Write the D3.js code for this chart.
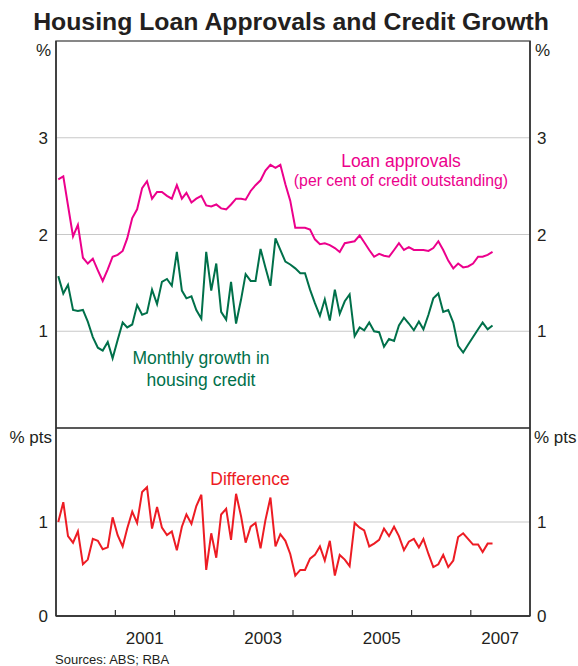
<!DOCTYPE html>
<html>
<head>
<meta charset="utf-8">
<script src="https://cdn.jsdelivr.net/npm/d3@7"></script>
<style>
  body { margin: 0; background: #fff; }
  svg { font-family: "Liberation Sans", Arial, sans-serif; }
</style>
</head>
<body>
<div class="figure"></div>
<script>
// monthly series, Jan 2000 - May 2007
let loanApprovals = [2.57, 2.60, 2.30, 1.98, 2.10, 1.76, 1.70, 1.75, 1.63, 1.52,
  1.64, 1.77, 1.79, 1.83, 1.96, 2.17, 2.26, 2.48, 2.55, 2.37,
  2.44, 2.44, 2.40, 2.37, 2.51, 2.37, 2.43, 2.33, 2.37, 2.40,
  2.30, 2.29, 2.31, 2.27, 2.26, 2.31, 2.37, 2.37, 2.36, 2.45,
  2.51, 2.56, 2.66, 2.72, 2.69, 2.72, 2.52, 2.35, 2.07, 2.07,
  2.07, 2.05, 1.95, 1.90, 1.91, 1.89, 1.86, 1.82, 1.91, 1.92,
  1.93, 1.99, 1.92, 1.84, 1.77, 1.80, 1.78, 1.77, 1.84, 1.91,
  1.84, 1.87, 1.84, 1.84, 1.84, 1.83, 1.86, 1.93, 1.84, 1.73,
  1.65, 1.70, 1.66, 1.67, 1.70, 1.77, 1.77, 1.79, 1.82]

let creditGrowth = [1.57, 1.39, 1.48, 1.22, 1.21, 1.22, 1.10, 0.94, 0.83, 0.80,
  0.89, 0.72, 0.91, 1.09, 1.04, 1.07, 1.27, 1.17, 1.19, 1.43,
  1.28, 1.51, 1.54, 1.47, 1.82, 1.42, 1.34, 1.36, 1.22, 1.13,
  1.82, 1.42, 1.70, 1.20, 1.12, 1.51, 1.08, 1.33, 1.59, 1.52,
  1.52, 1.85, 1.66, 1.47, 1.96, 1.84, 1.72, 1.69, 1.65, 1.60,
  1.60, 1.43, 1.29, 1.16, 1.33, 1.11, 1.43, 1.18, 1.31, 1.38,
  0.95, 1.04, 1.01, 1.09, 1.00, 0.99, 0.84, 0.92, 0.90, 1.06,
  1.14, 1.08, 1.01, 1.10, 1.02, 1.17, 1.34, 1.39, 1.20, 1.22,
  1.09, 0.85, 0.78, 0.86, 0.94, 1.02, 1.09, 1.02, 1.06]

let difference = [1.00, 1.21, 0.85, 0.78, 0.90, 0.55, 0.60, 0.82, 0.80, 0.71,
  0.73, 1.05, 0.86, 0.74, 0.93, 1.11, 0.99, 1.32, 1.37, 0.93,
  1.16, 0.94, 0.86, 0.90, 0.70, 0.95, 1.08, 0.98, 1.17, 1.29,
  0.49, 0.88, 0.62, 1.08, 1.14, 0.81, 1.30, 1.06, 0.78, 0.95,
  0.99, 0.72, 1.02, 1.26, 0.74, 0.87, 0.80, 0.66, 0.43, 0.49,
  0.49, 0.61, 0.65, 0.74, 0.59, 0.80, 0.43, 0.65, 0.60, 0.53,
  0.99, 0.94, 0.91, 0.74, 0.77, 0.81, 0.93, 0.85, 0.95, 0.85,
  0.70, 0.79, 0.82, 0.73, 0.82, 0.66, 0.52, 0.55, 0.65, 0.52,
  0.59, 0.84, 0.88, 0.82, 0.76, 0.76, 0.68, 0.77, 0.77]

let topTicks = [0, 1, 2, 3]
let bottomTicks = [0, 1]
let yearLabels = [2001, 2003, 2005, 2007]

const width = 578, height = 666
const plotLeft = 56, plotRight = 530, plotTop = 41, plotMid = 428, plotBottom = 616

const months = loanApprovals.map((v, i) => new Date(2000, i, 15))

const x = d3.scaleTime()
    .domain([new Date(2000, 0, 1), new Date(2008, 0, 1)])
    .range([plotLeft, plotRight])
const yTop = d3.scaleLinear().domain([0, 4]).range([plotMid, plotTop])
const yBot = d3.scaleLinear().domain([0, 2]).range([plotBottom, plotMid])

const svg = d3.select(".figure").append("svg")
    .attr("width", width)
    .attr("height", height)

svg.append("text")
    .attr("x", 291).attr("y", 30)
    .attr("text-anchor", "middle")
    .attr("font-size", 24.8).attr("font-weight", "bold")
    .attr("fill", "#231f20")
    .text("Housing Loan Approvals and Credit Growth")

// gridlines
svg.append("g").selectAll("line")
    .data(topTicks.filter(d => d > 0))
    .join("line")
    .attr("x1", plotLeft).attr("x2", plotRight)
    .attr("y1", d => yTop(d)).attr("y2", d => yTop(d))
    .attr("stroke", "#c8c8c8").attr("stroke-width", 1.2)

svg.append("g").selectAll("line")
    .data(bottomTicks.filter(d => d > 0))
    .join("line")
    .attr("x1", plotLeft).attr("x2", plotRight)
    .attr("y1", d => yBot(d)).attr("y2", d => yBot(d))
    .attr("stroke", "#c8c8c8").attr("stroke-width", 1.2)

// y tick labels, both sides
const tickFont = 17
function sideLabels(ticks, scale) {
    svg.append("g").selectAll("text")
        .data(ticks).join("text")
        .attr("x", plotLeft - 8).attr("y", d => scale(d) + 6)
        .attr("text-anchor", "end").attr("font-size", tickFont).attr("fill", "#231f20")
        .text(d => d)
    svg.append("g").selectAll("text")
        .data(ticks).join("text")
        .attr("x", plotRight + 7).attr("y", d => scale(d) + 6)
        .attr("text-anchor", "start").attr("font-size", tickFont).attr("fill", "#231f20")
        .text(d => d)
}
sideLabels(topTicks.filter(d => d > 0), yTop)
sideLabels(bottomTicks, yBot)

// units
svg.append("text").attr("x", plotLeft - 5).attr("y", 56).attr("text-anchor", "end")
    .attr("font-size", tickFont).attr("fill", "#231f20").text("%")
svg.append("text").attr("x", plotRight + 5).attr("y", 56).attr("text-anchor", "start")
    .attr("font-size", tickFont).attr("fill", "#231f20").text("%")
svg.append("text").attr("x", plotLeft - 4).attr("y", 443).attr("text-anchor", "end")
    .attr("font-size", tickFont).attr("fill", "#231f20").text("% pts")
svg.append("text").attr("x", plotRight + 4).attr("y", 443).attr("text-anchor", "start")
    .attr("font-size", tickFont).attr("fill", "#231f20").text("% pts")

// lines
const lineTop = d3.line().x((d, i) => x(months[i])).y(d => yTop(d))
const lineBot = d3.line().x((d, i) => x(months[i])).y(d => yBot(d))

svg.append("path").datum(loanApprovals)
    .attr("d", lineTop).attr("fill", "none")
    .attr("stroke", "#ec008c").attr("stroke-width", 2)
svg.append("path").datum(creditGrowth)
    .attr("d", lineTop).attr("fill", "none")
    .attr("stroke", "#00704a").attr("stroke-width", 2)
svg.append("path").datum(difference)
    .attr("d", lineBot).attr("fill", "none")
    .attr("stroke", "#ed1c24").attr("stroke-width", 2)

// frame
const frame = svg.append("g").attr("stroke", "#333").attr("stroke-width", 1.6).attr("fill", "none")
frame.append("rect").attr("x", plotLeft).attr("y", plotTop)
    .attr("width", plotRight - plotLeft).attr("height", plotBottom - plotTop)
    .attr("stroke", "#555").attr("stroke-width", 1.4)
frame.append("line").attr("x1", plotLeft).attr("x2", plotRight).attr("y1", plotMid).attr("y2", plotMid)
    .attr("stroke", "#222")
frame.append("line").attr("x1", plotLeft).attr("x2", plotRight).attr("y1", plotBottom).attr("y2", plotBottom)
    .attr("stroke", "#222")
frame.append("line").attr("x1", plotLeft).attr("x2", plotLeft).attr("y1", plotTop).attr("y2", plotBottom)
frame.append("line").attr("x1", plotRight).attr("x2", plotRight).attr("y1", plotTop).attr("y2", plotBottom)

// x ticks at year boundaries
svg.append("g").selectAll("line")
    .data(d3.timeYear.range(new Date(2001, 0, 1), new Date(2008, 0, 1)))
    .join("line")
    .attr("x1", d => x(d)).attr("x2", d => x(d))
    .attr("y1", plotBottom).attr("y2", plotBottom - 6)
    .attr("stroke", "#333").attr("stroke-width", 1.2)

svg.append("g").selectAll("text")
    .data(yearLabels).join("text")
    .attr("x", d => x(new Date(d, 6, 1)))
    .attr("y", 644)
    .attr("text-anchor", "middle").attr("font-size", tickFont).attr("fill", "#231f20")
    .text(d => d)

// series labels
svg.append("text").attr("x", 401).attr("y", 167).attr("text-anchor", "middle")
    .attr("font-size", 17.5).attr("fill", "#ec008c").text("Loan approvals")
svg.append("text").attr("x", 401).attr("y", 186).attr("text-anchor", "middle")
    .attr("font-size", 15.8).attr("fill", "#ec008c").text("(per cent of credit outstanding)")
svg.append("text").attr("x", 201).attr("y", 364).attr("text-anchor", "middle")
    .attr("font-size", 17.5).attr("fill", "#00704a").text("Monthly growth in")
svg.append("text").attr("x", 201).attr("y", 386).attr("text-anchor", "middle")
    .attr("font-size", 17.5).attr("fill", "#00704a").text("housing credit")
svg.append("text").attr("x", 250).attr("y", 485).attr("text-anchor", "middle")
    .attr("font-size", 17.5).attr("fill", "#ed1c24").text("Difference")

svg.append("text").attr("x", 55).attr("y", 664)
    .attr("font-size", 13).attr("fill", "#231f20").text("Sources: ABS; RBA")
</script>
</body>
</html>
